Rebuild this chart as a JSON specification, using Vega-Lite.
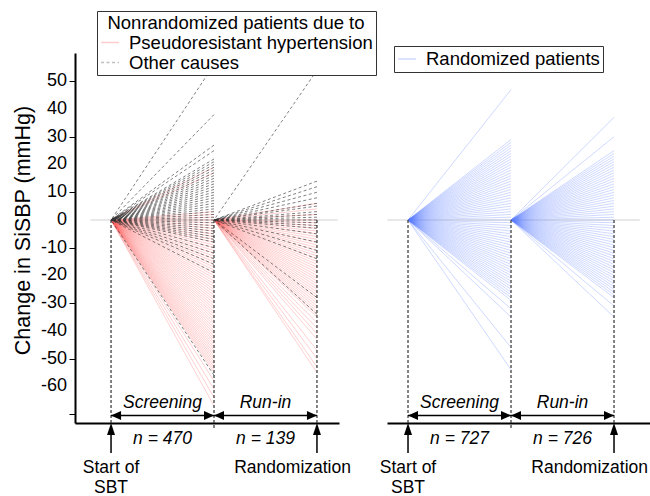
{
"$schema":"https://vega.github.io/schema/vega-lite/v6.json",
"background":"white",
"padding":{"left":12,"top":10,"right":0,"bottom":0},
"bounds":"flush",
"spacing":48,
"config":{
 "font":"Liberation Sans",
 "view":{"stroke":null},
 "axis":{"labelColor":"black","titleColor":"black","domainColor":"black","tickColor":"black"},
 "legend":{"labelFontSize":18.5,"labelColor":"black","labelLimit":400,"titleLimit":400,"titleFontSize":18.5,"titleFontWeight":"normal","titleColor":"black","strokeColor":"#333333","fillColor":"white","padding":3,"symbolType":"stroke","symbolSize":324,"symbolStrokeWidth":1.5,"labelOffset":9,"rowPadding":0,"titlePadding":0,"titleAnchor":"middle"}
},
"datasets":{
 "yTicks":[{"tick":-60},{"tick":-50},{"tick":-40},{"tick":-30},{"tick":-20},{"tick":-10},{"tick":0},{"tick":10},{"tick":20},{"tick":30},{"tick":40},{"tick":50}],
 "pseudoScreening":[{"change":19},{"change":17},{"change":3},{"change":2},{"change":1},{"change":0},{"change":-1},{"change":-2},{"change":-3},{"change":-4},{"change":-5},{"change":-6},{"change":-7},{"change":-8},{"change":-9},{"change":-10},{"change":-11},{"change":-12},{"change":-13},{"change":-14},{"change":-15},{"change":-16},{"change":-17},{"change":-18},{"change":-19},{"change":-20},{"change":-21},{"change":-22},{"change":-23},{"change":-24},{"change":-25},{"change":-26},{"change":-27},{"change":-28},{"change":-29},{"change":-30},{"change":-31},{"change":-32},{"change":-33},{"change":-34},{"change":-35},{"change":-36},{"change":-37},{"change":-38},{"change":-39},{"change":-40},{"change":-41},{"change":-42},{"change":-43},{"change":-44},{"change":-45},{"change":-46},{"change":-47},{"change":-48},{"change":-49},{"change":-50},{"change":-51},{"change":-52},{"change":-53},{"change":-54},{"change":-55},{"change":-58},{"change":-61},{"change":-64},{"change":-67}],
 "otherScreening":[{"change":56},{"change":38},{"change":27},{"change":25},{"change":22},{"change":21},{"change":20},{"change":19},{"change":18},{"change":17},{"change":16},{"change":15},{"change":14},{"change":13},{"change":12},{"change":11},{"change":10},{"change":9},{"change":8},{"change":7},{"change":6},{"change":5},{"change":4},{"change":3},{"change":2},{"change":1},{"change":0},{"change":-1},{"change":-2},{"change":-3},{"change":-4},{"change":-5},{"change":-6},{"change":-7},{"change":-8},{"change":-10},{"change":-12},{"change":-14},{"change":-16},{"change":-19},{"change":-56}],
 "pseudoRunin":[{"change":6},{"change":4},{"change":2},{"change":0},{"change":-1},{"change":-2},{"change":-3},{"change":-4},{"change":-5},{"change":-6},{"change":-7},{"change":-8},{"change":-9},{"change":-10},{"change":-11},{"change":-12},{"change":-13},{"change":-14},{"change":-15},{"change":-16},{"change":-17},{"change":-18},{"change":-19},{"change":-20},{"change":-21},{"change":-22},{"change":-23},{"change":-24},{"change":-25},{"change":-26},{"change":-27},{"change":-28},{"change":-29},{"change":-30},{"change":-31},{"change":-32},{"change":-33},{"change":-34},{"change":-35},{"change":-37},{"change":-39},{"change":-41},{"change":-43},{"change":-47},{"change":-50},{"change":-53},{"change":-55}],
 "otherRunin":[{"change":54},{"change":14},{"change":12},{"change":10},{"change":8},{"change":6},{"change":5},{"change":3},{"change":2},{"change":1},{"change":0},{"change":-1},{"change":-2},{"change":-3},{"change":-5},{"change":-8},{"change":-11},{"change":-14},{"change":-28},{"change":-34}],
 "randScreening":[{"change":47},{"change":29},{"change":28},{"change":27},{"change":26},{"change":25},{"change":24},{"change":23},{"change":22},{"change":21},{"change":20},{"change":19},{"change":18},{"change":17},{"change":16},{"change":15},{"change":14},{"change":13},{"change":12},{"change":11},{"change":10},{"change":9},{"change":8},{"change":7},{"change":6},{"change":5},{"change":4},{"change":3},{"change":2},{"change":1},{"change":0},{"change":-1},{"change":-2},{"change":-3},{"change":-4},{"change":-5},{"change":-6},{"change":-7},{"change":-8},{"change":-9},{"change":-10},{"change":-11},{"change":-12},{"change":-13},{"change":-14},{"change":-15},{"change":-16},{"change":-17},{"change":-18},{"change":-19},{"change":-20},{"change":-21},{"change":-22},{"change":-23},{"change":-24},{"change":-25},{"change":-26},{"change":-27},{"change":-28},{"change":-29},{"change":-32},{"change":-35},{"change":-46},{"change":-54}],
 "randRunin":[{"change":37},{"change":30},{"change":25},{"change":24},{"change":23},{"change":22},{"change":21},{"change":20},{"change":19},{"change":18},{"change":17},{"change":16},{"change":15},{"change":14},{"change":13},{"change":12},{"change":11},{"change":10},{"change":9},{"change":8},{"change":7},{"change":6},{"change":5},{"change":4},{"change":3},{"change":2},{"change":1},{"change":0},{"change":-1},{"change":-2},{"change":-3},{"change":-4},{"change":-5},{"change":-6},{"change":-7},{"change":-8},{"change":-9},{"change":-10},{"change":-11},{"change":-12},{"change":-13},{"change":-14},{"change":-15},{"change":-16},{"change":-17},{"change":-18},{"change":-19},{"change":-20},{"change":-21},{"change":-22},{"change":-23},{"change":-24},{"change":-25},{"change":-26},{"change":-27},{"change":-28},{"change":-31},{"change":-35}]
},
"resolve":{"scale":{"x":"independent","y":"independent","color":"independent","strokeDash":"independent"},"axis":{"x":"independent","y":"independent"},"legend":{"color":"independent","strokeDash":"independent"}},
"hconcat":[
{
 "width":264,"height":370,
 "layer":[
  {"data":{"values":[{}]},"mark":{"type":"rule","color":"#e0e0e0","strokeWidth":1.5},
   "encoding":{
    "x":{"datum":-0.2,"type":"quantitative","scale":{"domain":[-0.35,2.214],"nice":false,"zero":false},"axis":{"title":null,"labels":false,"ticks":false,"grid":false,"domainWidth":2}},
    "x2":{"datum":2.2},
    "y":{"datum":0,"type":"quantitative","scale":{"domain":[-73.2,60.2],"nice":false,"zero":false},"axis":{"title":"Change in SiSBP (mmHg)","values":[-70,-60,-50,-40,-30,-20,-10,0,10,20,30,40,50],"labels":false,"grid":false,"domainWidth":2,"tickSize":6,"tickWidth":1,"titleFontSize":21.5,"titleFontWeight":"normal","titlePadding":34,"titleY":177}}
   }},
  {"data":{"name":"yTicks"},"mark":{"type":"text","align":"right","baseline":"middle","fontSize":18,"dx":-8,"color":"black"},
   "encoding":{"x":{"datum":-0.35,"type":"quantitative"},"y":{"field":"tick","type":"quantitative"},"text":{"field":"tick","type":"nominal"}}},
  {"data":{"name":"pseudoScreening"},"mark":{"type":"rule","strokeWidth":1,"opacity":0.3},
   "encoding":{"x":{"datum":1,"type":"quantitative"},"x2":{"datum":0},"y":{"field":"change","type":"quantitative"},"y2":{"datum":0},
    "color":{"datum":"Pseudoresistant hypertension","type":"nominal","scale":{"domain":["Pseudoresistant hypertension","Other causes"],"range":["#ff5c5c","#333333"]},"legend":{"orient":"none","legendX":22,"legendY":-42,"title":"Nonrandomized patients due to","symbolOpacity":0.8}},
    "strokeDash":{"datum":"Pseudoresistant hypertension","type":"nominal","scale":{"domain":["Pseudoresistant hypertension","Other causes"],"range":[[1,0],[3,2.5]]},"legend":{"orient":"none","legendX":22,"legendY":-42,"title":"Nonrandomized patients due to","symbolOpacity":0.8}}}},
  {"data":{"name":"pseudoRunin"},"mark":{"type":"rule","strokeWidth":1,"opacity":0.3},
   "encoding":{"x":{"datum":2,"type":"quantitative"},"x2":{"datum":1},"y":{"field":"change","type":"quantitative"},"y2":{"datum":0},
    "color":{"datum":"Pseudoresistant hypertension","type":"nominal"},
    "strokeDash":{"datum":"Pseudoresistant hypertension","type":"nominal"}}},
  {"data":{"name":"otherScreening"},"mark":{"type":"rule","strokeWidth":1,"opacity":0.62},
   "encoding":{"x":{"datum":1,"type":"quantitative"},"x2":{"datum":0},"y":{"field":"change","type":"quantitative"},"y2":{"datum":0},
    "color":{"datum":"Other causes","type":"nominal"},
    "strokeDash":{"datum":"Other causes","type":"nominal"}}},
  {"data":{"name":"otherRunin"},"mark":{"type":"rule","strokeWidth":1,"opacity":0.62},
   "encoding":{"x":{"datum":2,"type":"quantitative"},"x2":{"datum":1},"y":{"field":"change","type":"quantitative"},"y2":{"datum":0},
    "color":{"datum":"Other causes","type":"nominal"},
    "strokeDash":{"datum":"Other causes","type":"nominal"}}},
  {"data":{"values":[{}]},"mark":{"type":"rule","color":"#333333","strokeDash":[3,2],"strokeWidth":1.2},"encoding":{"x":{"datum":0,"type":"quantitative"},"y":{"datum":0,"type":"quantitative"},"y2":{"datum":-73.2}}},
  {"data":{"values":[{}]},"mark":{"type":"rule","color":"#333333","strokeDash":[3,2],"strokeWidth":1.2},"encoding":{"x":{"datum":1,"type":"quantitative"},"y":{"datum":0,"type":"quantitative"},"y2":{"datum":-75.3}}},
  {"data":{"values":[{}]},"mark":{"type":"rule","color":"#333333","strokeDash":[3,2],"strokeWidth":1.2},"encoding":{"x":{"datum":2,"type":"quantitative"},"y":{"datum":0,"type":"quantitative"},"y2":{"datum":-73.2}}},
  {"data":{"values":[{}]},"mark":{"type":"rule","color":"black","strokeWidth":1.5},"encoding":{"x":{"datum":0,"type":"quantitative"},"x2":{"datum":1},"y":{"datum":-70.5,"type":"quantitative"}}},
  {"data":{"values":[{}]},"mark":{"type":"rule","color":"black","strokeWidth":1.5},"encoding":{"x":{"datum":1,"type":"quantitative"},"x2":{"datum":2},"y":{"datum":-70.5,"type":"quantitative"}}},
  {"data":{"values":[{}]},"mark":{"type":"point","shape":"M0,0L2,-0.9L2,0.9Z","filled":true,"size":100,"color":"black","opacity":1,"strokeWidth":0},"encoding":{"x":{"datum":0,"type":"quantitative"},"y":{"datum":-70.5,"type":"quantitative"}}},
  {"data":{"values":[{}]},"mark":{"type":"point","shape":"M0,0L-2,-0.9L-2,0.9Z","filled":true,"size":100,"color":"black","opacity":1,"strokeWidth":0},"encoding":{"x":{"datum":1,"type":"quantitative"},"y":{"datum":-70.5,"type":"quantitative"}}},
  {"data":{"values":[{}]},"mark":{"type":"point","shape":"M0,0L2,-0.9L2,0.9Z","filled":true,"size":100,"color":"black","opacity":1,"strokeWidth":0},"encoding":{"x":{"datum":1,"type":"quantitative"},"y":{"datum":-70.5,"type":"quantitative"}}},
  {"data":{"values":[{}]},"mark":{"type":"point","shape":"M0,0L-2,-0.9L-2,0.9Z","filled":true,"size":100,"color":"black","opacity":1,"strokeWidth":0},"encoding":{"x":{"datum":2,"type":"quantitative"},"y":{"datum":-70.5,"type":"quantitative"}}},
  {"data":{"values":[{}]},"mark":{"type":"rule","color":"black","strokeWidth":1.5},"encoding":{"x":{"datum":0,"type":"quantitative"},"y":{"datum":-75,"type":"quantitative"},"y2":{"datum":-84}}},
  {"data":{"values":[{}]},"mark":{"type":"rule","color":"black","strokeWidth":1.5},"encoding":{"x":{"datum":2,"type":"quantitative"},"y":{"datum":-75,"type":"quantitative"},"y2":{"datum":-84}}},
  {"data":{"values":[{}]},"mark":{"type":"point","shape":"M0,0L-0.8,2.4L0.8,2.4Z","filled":true,"size":100,"color":"black","opacity":1,"strokeWidth":0},"encoding":{"x":{"datum":0,"type":"quantitative"},"y":{"datum":-73.2,"type":"quantitative"}}},
  {"data":{"values":[{}]},"mark":{"type":"point","shape":"M0,0L-0.8,2.4L0.8,2.4Z","filled":true,"size":100,"color":"black","opacity":1,"strokeWidth":0},"encoding":{"x":{"datum":2,"type":"quantitative"},"y":{"datum":-73.2,"type":"quantitative"}}},
  {"data":{"values":[{}]},"mark":{"type":"text","text":"Screening","fontStyle":"italic","fontSize":17.5,"baseline":"middle","align":"center","color":"black"},"encoding":{"x":{"datum":0.5,"type":"quantitative"},"y":{"datum":-66,"type":"quantitative"}}},
  {"data":{"values":[{}]},"mark":{"type":"text","text":"Run-in","fontStyle":"italic","fontSize":17.5,"baseline":"middle","align":"center","color":"black"},"encoding":{"x":{"datum":1.5,"type":"quantitative"},"y":{"datum":-66,"type":"quantitative"}}},
  {"data":{"values":[{}]},"mark":{"type":"text","text":"n = 470","fontStyle":"italic","fontSize":17.5,"baseline":"middle","align":"center","color":"black"},"encoding":{"x":{"datum":0.5,"type":"quantitative"},"y":{"datum":-79,"type":"quantitative"}}},
  {"data":{"values":[{}]},"mark":{"type":"text","text":"n = 139","fontStyle":"italic","fontSize":17.5,"baseline":"middle","align":"center","color":"black"},"encoding":{"x":{"datum":1.5,"type":"quantitative"},"y":{"datum":-79,"type":"quantitative"}}},
  {"data":{"values":[{}]},"mark":{"type":"text","text":"Start of","fontSize":17.5,"baseline":"middle","align":"center","color":"black"},"encoding":{"x":{"datum":0,"type":"quantitative"},"y":{"datum":-89.4,"type":"quantitative"}}},
  {"data":{"values":[{}]},"mark":{"type":"text","text":"SBT","fontSize":17.5,"baseline":"middle","align":"center","color":"black"},"encoding":{"x":{"datum":0,"type":"quantitative"},"y":{"datum":-96.6,"type":"quantitative"}}},
  {"data":{"values":[{}]},"mark":{"type":"text","text":"Randomization","fontSize":17.5,"baseline":"middle","align":"right","dx":34,"color":"black"},"encoding":{"x":{"datum":2,"type":"quantitative"},"y":{"datum":-89.4,"type":"quantitative"}}}
 ]
},
{
 "width":264,"height":370,
 "layer":[
  {"data":{"values":[{}]},"mark":{"type":"rule","color":"#e0e0e0","strokeWidth":1.5},
   "encoding":{
    "x":{"datum":-0.2,"type":"quantitative","scale":{"domain":[-0.204,2.359],"nice":false,"zero":false},"axis":{"title":null,"labels":false,"ticks":false,"grid":false,"domainWidth":2}},
    "x2":{"datum":2.25},
    "y":{"datum":0,"type":"quantitative","scale":{"domain":[-73.2,60.2],"nice":false,"zero":false},"axis":null}
   }},
  {"data":{"name":"randScreening"},"mark":{"type":"rule","strokeWidth":1,"opacity":0.3},
   "encoding":{"x":{"datum":1,"type":"quantitative"},"x2":{"datum":0},"y":{"field":"change","type":"quantitative"},"y2":{"datum":0},
    "color":{"datum":"Randomized patients","type":"nominal","scale":{"domain":["Randomized patients"],"range":["#5f82ff"]},"legend":{"orient":"none","legendX":7,"legendY":-7,"title":null,"symbolOpacity":0.55}}}},
  {"data":{"name":"randRunin"},"mark":{"type":"rule","strokeWidth":1,"opacity":0.3},
   "encoding":{"x":{"datum":2,"type":"quantitative"},"x2":{"datum":1},"y":{"field":"change","type":"quantitative"},"y2":{"datum":0},
    "color":{"datum":"Randomized patients","type":"nominal"}}},
  {"data":{"values":[{}]},"mark":{"type":"rule","color":"#333333","strokeDash":[3,2],"strokeWidth":1.2},"encoding":{"x":{"datum":0,"type":"quantitative"},"y":{"datum":0,"type":"quantitative"},"y2":{"datum":-73.2}}},
  {"data":{"values":[{}]},"mark":{"type":"rule","color":"#333333","strokeDash":[3,2],"strokeWidth":1.2},"encoding":{"x":{"datum":1,"type":"quantitative"},"y":{"datum":0,"type":"quantitative"},"y2":{"datum":-75.3}}},
  {"data":{"values":[{}]},"mark":{"type":"rule","color":"#333333","strokeDash":[3,2],"strokeWidth":1.2},"encoding":{"x":{"datum":2,"type":"quantitative"},"y":{"datum":0,"type":"quantitative"},"y2":{"datum":-73.2}}},
  {"data":{"values":[{}]},"mark":{"type":"rule","color":"black","strokeWidth":1.5},"encoding":{"x":{"datum":0,"type":"quantitative"},"x2":{"datum":1},"y":{"datum":-70.5,"type":"quantitative"}}},
  {"data":{"values":[{}]},"mark":{"type":"rule","color":"black","strokeWidth":1.5},"encoding":{"x":{"datum":1,"type":"quantitative"},"x2":{"datum":2},"y":{"datum":-70.5,"type":"quantitative"}}},
  {"data":{"values":[{}]},"mark":{"type":"point","shape":"M0,0L2,-0.9L2,0.9Z","filled":true,"size":100,"color":"black","opacity":1,"strokeWidth":0},"encoding":{"x":{"datum":0,"type":"quantitative"},"y":{"datum":-70.5,"type":"quantitative"}}},
  {"data":{"values":[{}]},"mark":{"type":"point","shape":"M0,0L-2,-0.9L-2,0.9Z","filled":true,"size":100,"color":"black","opacity":1,"strokeWidth":0},"encoding":{"x":{"datum":1,"type":"quantitative"},"y":{"datum":-70.5,"type":"quantitative"}}},
  {"data":{"values":[{}]},"mark":{"type":"point","shape":"M0,0L2,-0.9L2,0.9Z","filled":true,"size":100,"color":"black","opacity":1,"strokeWidth":0},"encoding":{"x":{"datum":1,"type":"quantitative"},"y":{"datum":-70.5,"type":"quantitative"}}},
  {"data":{"values":[{}]},"mark":{"type":"point","shape":"M0,0L-2,-0.9L-2,0.9Z","filled":true,"size":100,"color":"black","opacity":1,"strokeWidth":0},"encoding":{"x":{"datum":2,"type":"quantitative"},"y":{"datum":-70.5,"type":"quantitative"}}},
  {"data":{"values":[{}]},"mark":{"type":"rule","color":"black","strokeWidth":1.5},"encoding":{"x":{"datum":0,"type":"quantitative"},"y":{"datum":-75,"type":"quantitative"},"y2":{"datum":-84}}},
  {"data":{"values":[{}]},"mark":{"type":"rule","color":"black","strokeWidth":1.5},"encoding":{"x":{"datum":2,"type":"quantitative"},"y":{"datum":-75,"type":"quantitative"},"y2":{"datum":-84}}},
  {"data":{"values":[{}]},"mark":{"type":"point","shape":"M0,0L-0.8,2.4L0.8,2.4Z","filled":true,"size":100,"color":"black","opacity":1,"strokeWidth":0},"encoding":{"x":{"datum":0,"type":"quantitative"},"y":{"datum":-73.2,"type":"quantitative"}}},
  {"data":{"values":[{}]},"mark":{"type":"point","shape":"M0,0L-0.8,2.4L0.8,2.4Z","filled":true,"size":100,"color":"black","opacity":1,"strokeWidth":0},"encoding":{"x":{"datum":2,"type":"quantitative"},"y":{"datum":-73.2,"type":"quantitative"}}},
  {"data":{"values":[{}]},"mark":{"type":"text","text":"Screening","fontStyle":"italic","fontSize":17.5,"baseline":"middle","align":"center","color":"black"},"encoding":{"x":{"datum":0.5,"type":"quantitative"},"y":{"datum":-66,"type":"quantitative"}}},
  {"data":{"values":[{}]},"mark":{"type":"text","text":"Run-in","fontStyle":"italic","fontSize":17.5,"baseline":"middle","align":"center","color":"black"},"encoding":{"x":{"datum":1.5,"type":"quantitative"},"y":{"datum":-66,"type":"quantitative"}}},
  {"data":{"values":[{}]},"mark":{"type":"text","text":"n = 727","fontStyle":"italic","fontSize":17.5,"baseline":"middle","align":"center","color":"black"},"encoding":{"x":{"datum":0.5,"type":"quantitative"},"y":{"datum":-79,"type":"quantitative"}}},
  {"data":{"values":[{}]},"mark":{"type":"text","text":"n = 726","fontStyle":"italic","fontSize":17.5,"baseline":"middle","align":"center","color":"black"},"encoding":{"x":{"datum":1.5,"type":"quantitative"},"y":{"datum":-79,"type":"quantitative"}}},
  {"data":{"values":[{}]},"mark":{"type":"text","text":"Start of","fontSize":17.5,"baseline":"middle","align":"center","color":"black"},"encoding":{"x":{"datum":0,"type":"quantitative"},"y":{"datum":-89.4,"type":"quantitative"}}},
  {"data":{"values":[{}]},"mark":{"type":"text","text":"SBT","fontSize":17.5,"baseline":"middle","align":"center","color":"black"},"encoding":{"x":{"datum":0,"type":"quantitative"},"y":{"datum":-96.6,"type":"quantitative"}}},
  {"data":{"values":[{}]},"mark":{"type":"text","text":"Randomization","fontSize":17.5,"baseline":"middle","align":"right","dx":34,"color":"black"},"encoding":{"x":{"datum":2,"type":"quantitative"},"y":{"datum":-89.4,"type":"quantitative"}}}
 ]
}
]
}
